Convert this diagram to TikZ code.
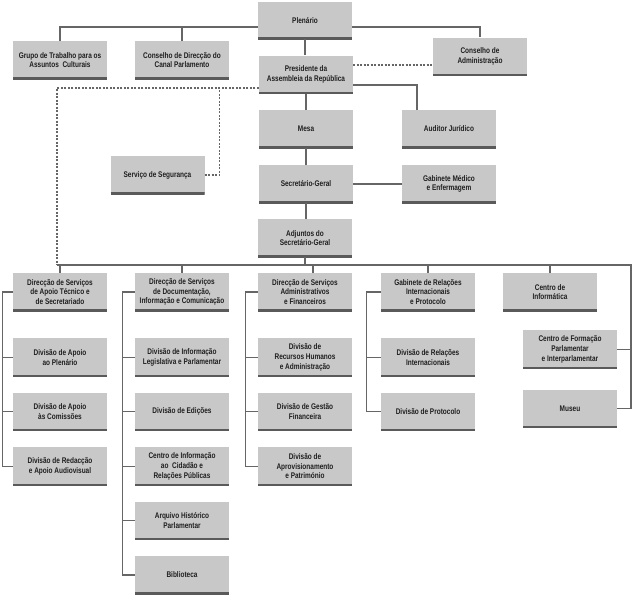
\documentclass[tikz,border=0pt]{standalone}
\usepackage{fontspec}
\setsansfont{Liberation Sans}[FakeStretch=0.79]
\usetikzlibrary{positioning}
\definecolor{OrgGray}{HTML}{C8C8C8}
\definecolor{OrgEdge}{HTML}{5A5A5A}
\definecolor{OrgLine}{HTML}{666666}
\definecolor{OrgText}{HTML}{1E1E1E}

\begin{document}
\begin{tikzpicture}[
      x=1pt, y=-1pt,
      box/.style={fill=OrgGray, minimum width=94pt, minimum height=38pt, inner sep=1pt, align=center,
                  text=OrgText, font=\sffamily\bfseries\fontsize{8.2}{9.7}\selectfont,
                  path picture={\draw[OrgEdge, line width=3.2pt] (path picture bounding box.south west) -- (path picture bounding box.south east);}},
      link/.style={draw=OrgLine, line width=1.3pt},
      dlink/.style={link, dash pattern=on 2pt off 1.5pt}
  ]
      \useasboundingbox (0,0) rectangle (632,595);

      % Top of the chart
      \node[box, minimum height=37pt] (plen) at (305,20.5) {Plenário};
      \node[box] (grupo) at (60,60) {Grupo de Trabalho para os\\Assuntos\ \ Culturais};
      \node[box] (cdcp) at (182,60) {Conselho de Direcção do\\Canal Parlamento};
      \node[box] (cadm) at (480,56.5) {Conselho de\\Administração};
      \node[box] (pres) at (306,74.5) {Presidente da\\Assembleia da República};
      \node[box] (mesa) at (306,129) {Mesa};
      \node[box] (audit) at (449,129) {Auditor Jurídico};
      \node[box] (seg) at (157.5,175) {Serviço de Segurança};
      \node[box] (sg) at (306,184) {Secretário-Geral};
      \node[box] (gmed) at (449,184) {Gabinete Médico\\e Enfermagem};
      \node[box] (adj) at (305,238) {Adjuntos do\\Secretário-Geral};

      % Services under the Secretary-General
      \node[box] (dat) at (60,292) {Direcção de Serviços\\de Apoio Técnico e\\de Secretariado};
      \node[box] (ddi) at (182,292) {Direcção de Serviços\\de Documentação,\\Informação e Comunicação};
      \node[box] (daf) at (305,292) {Direcção de Serviços\\Administrativos\\e Financeiros};
      \node[box] (grip) at (428,292) {Gabinete de Relações\\Internacionais\\e Protocolo};
      \node[box] (cinf) at (550,292) {Centro de\\Informática};

      % Divisions
      \node[box, below=27pt of dat] (dap) {Divisão de Apoio\\ao Plenário};
      \node[box, below=16pt of dap] (dac) {Divisão de Apoio\\às Comissões};
      \node[box, below=16pt of dac] (dra) {Divisão de Redacção\\e Apoio Audiovisual};
      \node[box, below=27pt of ddi] (dil) {Divisão de Informação\\Legislativa e Parlamentar};
      \node[box, below=16pt of dil] (ded) {Divisão de Edições};
      \node[box, below=16pt of ded] (cic) {Centro de Informação\\ao\ \ Cidadão e\\Relações Públicas};
      \node[box, below=16pt of cic] (ahp) {Arquivo Histórico\\Parlamentar};
      \node[box, below=16pt of ahp] (bib) {Biblioteca};
      \node[box, below=27pt of daf] (drh) {Divisão de\\Recursos Humanos\\e Administração};
      \node[box, below=16pt of drh] (dgf) {Divisão de Gestão\\Financeira};
      \node[box, below=16pt of dgf] (dapv) {Divisão de\\Aprovisionamento\\e Património};
      \node[box, below=27pt of grip] (dri) {Divisão de Relações\\Internacionais};
      \node[box, below=16pt of dri] (dpr) {Divisão de Protocolo};
      \node[box, below=19pt of cinf, xshift=20pt] (cfp) {Centro de Formação\\Parlamentar\\e Interparlamentar};
      \node[box, below=21pt of cfp] (mus) {Museu};

      % Helper coordinates
      \coordinate (plenbus) at ([yshift=-6.5pt]plen.west);
      \coordinate (presdash) at ([yshift=-13.5pt]pres.west);
      \coordinate (presaud) at ([yshift=-10.5pt]pres.east);
      \coordinate (presadm) at ([yshift=9.5pt]pres.east);
      \coordinate (auddrop) at ([xshift=-32pt]audit.north);
      \coordinate (segturn) at ([xshift=15pt]seg.east);
      \coordinate (dafdrop) at ([xshift=8pt]daf.north);
      \coordinate (busL) at (57,265);
      \coordinate (busR) at (631,265);

      % Connectors
      \draw[link] (plenbus) -| (grupo.north);
      \draw[link] (plenbus -| cdcp.north) -- (cdcp.north);
      \draw[link] (plenbus -| plen.east) -| (cadm.north);
      \draw[link] (plen.south) -- (plen.south |- pres.north);
      \draw[dlink] (presadm) -- (presadm -| cadm.west);
      \draw[link] (presaud) -| (auddrop);
      \draw[link] (pres.south) -- (mesa.north);
      \draw[link] (mesa.south) -- (sg.north);
      \draw[link] (sg.east) -- (gmed.west);
      \draw[link] (sg.south) -- (sg.south |- adj.north);
      \draw[dlink] (presdash) -| (busL);
      \draw[dlink] (seg.east) -| (segturn |- presdash);
      \draw[link] (adj.south) -- (adj.south |- busL);
      \draw[link] (busL) -- (busR) |- (mus.east);
      \draw[link] (cfp.east) -- (cfp.east -| busR);
      \foreach \n in {dat,ddi,grip,cinf}
        \draw[link] (\n.north |- busL) -- (\n.north);
      \draw[link] (dafdrop |- busL) -- (dafdrop);
      \foreach \n in {dap,dac,dra}
        \draw[link] (dat.west) -- ++(-10pt,0) |- (\n.west);
      \foreach \n in {dil,ded,cic,ahp,bib}
        \draw[link] (ddi.west) -- ++(-12pt,0) |- (\n.west);
      \foreach \n in {drh,dgf,dapv}
        \draw[link] (daf.west) -- ++(-12pt,0) |- (\n.west);
      \foreach \n in {dri,dpr}
        \draw[link] (grip.west) -- ++(-14pt,0) |- (\n.west);
  \end{tikzpicture}
\end{document}
